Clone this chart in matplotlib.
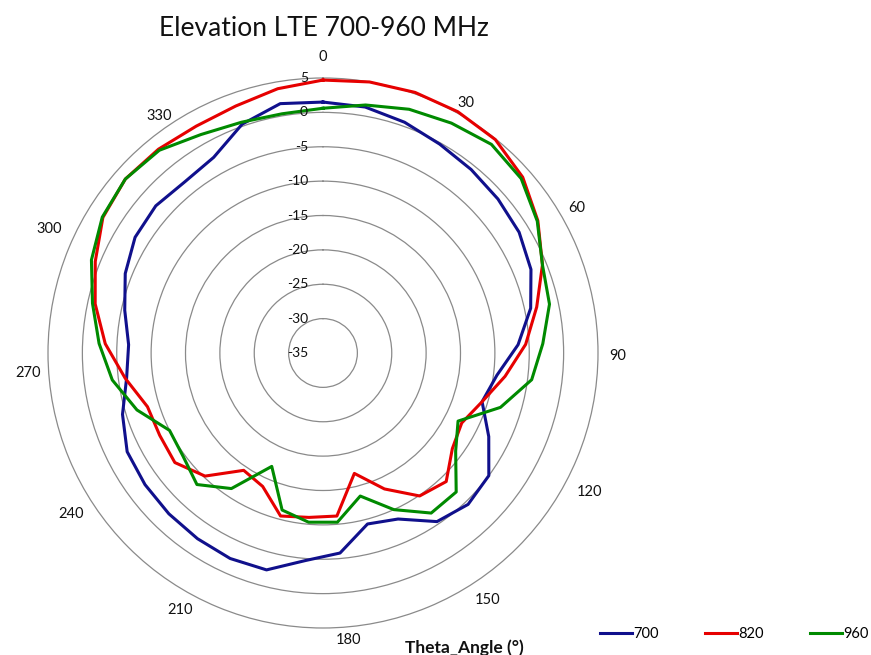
import numpy as np
import matplotlib
matplotlib.use('Agg')
import matplotlib.pyplot as plt
from matplotlib.transforms import offset_copy

# ---- data ----
theta_deg = list(range(0, 361, 10))          # 37 categories (Excel radar)
s700 = [1.5, 1.3, 0.6, -0.2, -0.7, -1.1, -1.5, -2.4, -4.1, -6.6, -9.5, -10.8,
        -8.0, -5.0, -4.5, -5.4, -8.5, -9.3, -5.8, -4.7, -2.4, -2.2, -2.4, -2.6,
        -2.8, -3.1, -4.5, -6.2, -6.7, -5.5, -4.0, -2.9, -2.6, -3.0, -2.4, 0.3, 1.8]
s820 = [4.7, 5.0, 5.2, 5.2, 4.9, 3.7, 1.7, -0.6, -3.2, -5.5, -8.3, -10.8,
        -12.4, -11.6, -9.1, -9.9, -13.3, -16.9, -11.2, -11.0, -10.5, -13.7, -14.4, -10.2,
        -8.2, -8.4, -8.3, -6.0, -3.3, -1.1, 0.7, 2.6, 3.3, 3.1, 2.8, 3.1, 4.0]
s960 = [0.6, 1.6, 2.6, 3.3, 4.0, 3.4, 1.6, -0.6, -1.3, -3.0, -4.4, -8.0,
        -13.0, -11.0, -7.0, -6.9, -10.0, -13.5, -10.3, -10.3, -11.4, -16.9, -11.2, -8.5,
        -9.7, -10.0, -6.7, -4.1, -2.4, -0.7, 1.3, 2.7, 3.3, 2.9, 1.4, 0.6, 0.3]
series_names = ['700', '820', '960']
r_ticks = [5, 0, -5, -10, -15, -20, -25, -30, -35]
angle_labels = ['0', '30', '60', '90', '120', '150', '180', '210', '240', '270', '300', '330']
title = 'Elevation LTE 700-960 MHz'
axis_title = 'Theta_Angle (°)'

# layout: where the category labels sit (degrees clockwise from top, px from centre)
label_angles = [0, 29.8, 60.3, 90.6, 117.5, 146.3, 175, 209, 237.4, 266.1, 294.4, 325.3]
label_dists = [296, 288, 292, 295, 300, 297, 288, 294, 299, 296, 301, 288]

colors = ['#10108C', '#E60000', '#008A00']

plt.rcParams['font.family'] = ['Lato', 'DejaVu Sans']

W, H = 871, 655
fig = plt.figure(figsize=(W / 100, H / 100), dpi=100)
cx, cy, R = 323, 353, 275
ax = fig.add_axes([(cx - R) / W, (H - cy - R) / H, 2 * R / W, 2 * R / H], projection='polar')
ax.set_theta_zero_location('N')
ax.set_theta_direction(-1)

n = len(theta_deg)
pos = np.arange(n) * 2 * np.pi / n
closed_pos = np.append(pos, 2 * np.pi)
for vals, name, c in zip([s700, s820, s960], series_names, colors):
    v = np.append(np.array(vals, dtype=float), vals[0])
    ax.plot(closed_pos, v, color=c, lw=2.2, label=name, solid_joinstyle='round',
            clip_on=False, zorder=3)

rmin, rmax = min(r_ticks), max(r_ticks)
ax.set_ylim(rmin, rmax)
ax.set_yticks([t for t in r_ticks if rmin < t < rmax])
ax.set_yticklabels([])
ax.yaxis.grid(True, color='#8a8a8a', lw=0.9)
ax.xaxis.grid(False)
ax.set_xticks([])
ax.spines['polar'].set_color('#8a8a8a')
ax.spines['polar'].set_linewidth(0.9)

# radial value labels along 0 deg
tr = offset_copy(ax.transData, fig=fig, x=-15, y=0, units='dots')
for t in r_ticks:
    ax.text(0, t, str(t), transform=tr, ha='right', va='center', fontsize=10, color='#111111')

# category labels outside the outer ring
px_per_unit = R / (rmax - rmin)
for a, d, lab in zip(label_angles, label_dists, angle_labels):
    ax.text(np.deg2rad(a), rmin + d / px_per_unit, lab, ha='center', va='center',
            fontsize=10.5, color='#111111', clip_on=False)

fig.text(324 / W, 1 - 28 / H, title, ha='center', va='center', fontsize=19, color='#111111')
fig.text(405 / W, 1 - 639 / H, axis_title, ha='left', va='top', fontsize=12.5,
         fontweight='bold', color='#111111')

fig.legend(loc='center left', bbox_to_anchor=(600 / W, 1 - 634 / H), ncol=3, frameon=False,
           fontsize=10.5, handlelength=2.2, handletextpad=0.1, columnspacing=3.15,
           borderaxespad=0, borderpad=0)

fig.savefig('out.png', dpi=100, facecolor='white')
